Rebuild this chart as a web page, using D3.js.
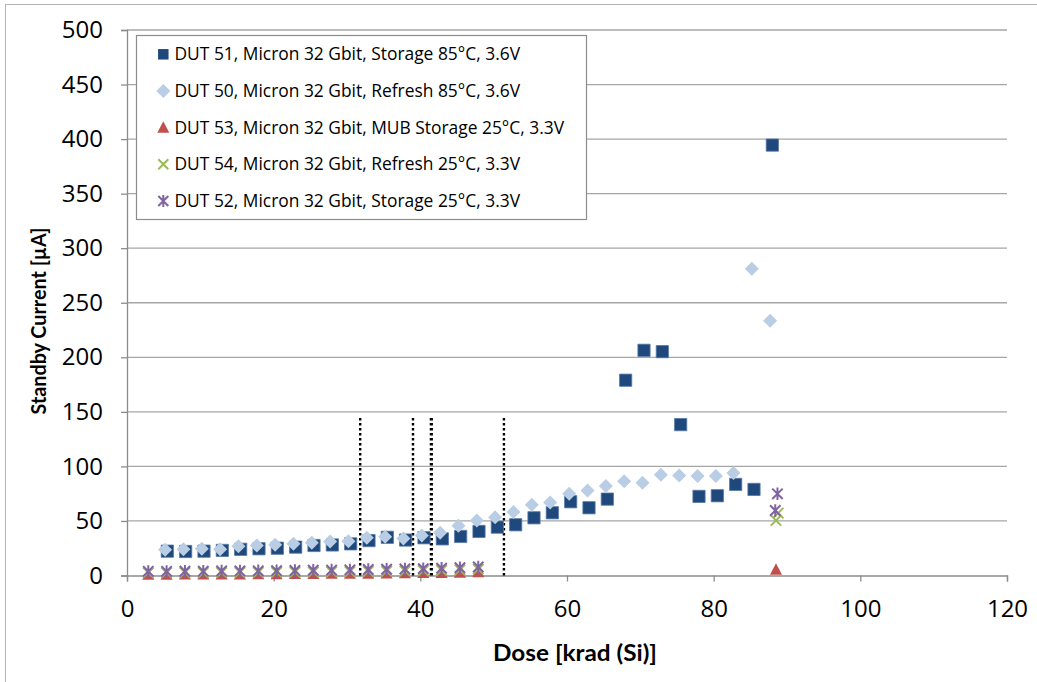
<!DOCTYPE html>
<html><head><meta charset="utf-8">
<script src="https://cdn.jsdelivr.net/npm/d3@7"></script>
<style>body{margin:0;background:#fff}svg{display:block}</style>
</head><body><svg id="c" width="1037" height="682"></svg>
<script>
const xTicks = [0, 20, 40, 60, 80, 100, 120];
const yTicks = [0, 50, 100, 150, 200, 250, 300, 350, 400, 450, 500];
const seriesNames = [
  "DUT 51, Micron 32 Gbit, Storage 85°C, 3.6V",
  "DUT 50, Micron 32 Gbit, Refresh 85°C, 3.6V",
  "DUT 53, Micron 32 Gbit, MUB Storage 25°C, 3.3V",
  "DUT 54, Micron 32 Gbit, Refresh 25°C, 3.3V",
  "DUT 52, Micron 32 Gbit, Storage 25°C, 3.3V"
];
const dut51Dose = [5.5, 8.0, 10.5, 13.0, 15.5, 18.0, 20.5, 23.0, 25.5, 28.0, 30.5, 33.0, 35.5, 38.0, 40.5, 43.0, 45.5, 48.0, 50.5, 53.0, 55.5, 58.0, 60.5, 63.0, 65.5, 68.0, 70.5, 73.0, 75.5, 78.0, 80.5, 83.0, 85.5, 88.0];
const dut51Current = [22.3, 22, 22.3, 23, 24, 24.5, 25, 26, 27.5, 28, 29, 32, 35, 32.5, 34.6, 33.6, 35.8, 40.4, 44.3, 46.5, 52.9, 57.5, 67.6, 62.1, 70, 179, 206.4, 205.2, 138.3, 72.5, 73.1, 83.5, 78.9, 394.5];
const dut50Dose = [5.2, 7.7, 10.2, 12.7, 15.2, 17.7, 20.2, 22.7, 25.2, 27.7, 30.2, 32.7, 35.2, 37.7, 40.2, 42.7, 45.2, 47.7, 50.2, 52.7, 55.2, 57.7, 60.3, 62.8, 65.3, 67.8, 70.3, 72.8, 75.3, 77.8, 80.3, 82.7, 85.2, 87.7];
const dut50Current = [23.6, 24.1, 24.5, 24.1, 26.9, 27.5, 28.2, 29.1, 30, 31.2, 31.5, 34.6, 35.5, 34, 36.7, 39.2, 45.6, 50.5, 53.5, 58.1, 64.9, 67, 75, 78, 82, 86.5, 85, 92.4, 91.7, 91.1, 91.1, 93.9, 281.2, 233.5];
const lowDose = [2.9, 5.4, 7.9, 10.4, 12.9, 15.4, 17.9, 20.4, 22.9, 25.4, 27.9, 30.4, 32.9, 35.4, 37.9, 40.4, 42.9, 45.4, 47.9];
const dut53Dose = lowDose.concat([88.5]);
const dut53Current = [0.8, 0.8, 0.9, 0.9, 1.0, 1.0, 1.1, 1.2, 1.3, 1.4, 1.5, 1.6, 1.7, 1.8, 2.0, 2.2, 2.4, 2.6, 3.0, 5.2];
const dut54Dose = lowDose.concat([88.8, 88.5]);
const dut54Current = [2.6, 2.6, 2.7, 2.7, 2.8, 2.9, 3.0, 3.1, 3.2, 3.3, 3.5, 3.6, 3.8, 4.0, 4.2, 4.5, 4.8, 5.2, 5.8, 57.2, 50.5];
const dut52Dose = lowDose.concat([88.7, 88.4]);
const dut52Current = [3.8, 3.8, 3.9, 4.0, 4.1, 4.2, 4.3, 4.4, 4.6, 4.8, 5.0, 5.2, 5.5, 5.7, 6.0, 6.3, 6.7, 7.1, 7.8, 74.9, 59.6];
const markerLines = [31.8, 39.0, 41.5, 51.4];
const markerLineTop = 146;

const svg = d3.select("#c");
const x = d3.scaleLinear().domain([0, 120]).range([127, 1007]);
const y = d3.scaleLinear().domain([0, 500]).range([575.5, 30]);

// outer chart border
svg.append("rect").attr("x", 5.5).attr("y", 4.5).attr("width", 1100).attr("height", 1000)
  .attr("fill", "#fff").attr("stroke", "#b3b3b3").attr("stroke-width", 1);

// gridlines
svg.append("g").selectAll("line").data(yTicks.filter(d => d > 0)).join("line")
  .attr("x1", x(0)).attr("x2", x(120)).attr("y1", d => y(d)).attr("y2", d => y(d))
  .attr("stroke", "#a6a6a6").attr("stroke-width", 1.3);

const font = "'Open Sans', 'DejaVu Sans', sans-serif";
// y axis
const yAxis = svg.append("g").attr("transform", `translate(${x(0)},0)`)
  .call(d3.axisLeft(y).tickValues(yTicks).tickSize(6).tickPadding(18));
yAxis.select(".domain").attr("stroke", "#8c8c8c").attr("stroke-width", 1.3);
yAxis.selectAll(".tick line").attr("stroke", "#8c8c8c").attr("stroke-width", 1.3);
yAxis.selectAll("text").attr("font-family", font).attr("font-size", 24).attr("fill", "#000");
// x axis
const xAxis = svg.append("g").attr("transform", `translate(0,${y(0)})`)
  .call(d3.axisBottom(x).tickValues(xTicks).tickSize(6).tickPadding(18));
xAxis.select(".domain").attr("stroke", "#8c8c8c").attr("stroke-width", 1.3);
xAxis.selectAll(".tick line").attr("stroke", "#8c8c8c").attr("stroke-width", 1.3);
xAxis.selectAll("text").attr("font-family", font).attr("font-size", 24).attr("fill", "#000");

// axis titles
const titleFont = "Lato, 'Liberation Sans', sans-serif";
svg.append("text").attr("transform", "translate(46,321) rotate(-90)")
  .attr("text-anchor", "middle").attr("font-family", titleFont).attr("font-weight", "bold")
  .attr("font-size", 20).attr("textLength", 187).attr("lengthAdjust", "spacingAndGlyphs")
  .text("Standby Current [µA]");
svg.append("text").attr("x", 575).attr("y", 661)
  .attr("text-anchor", "middle").attr("font-family", titleFont).attr("font-weight", "bold")
  .attr("font-size", 22).attr("textLength", 164).attr("lengthAdjust", "spacingAndGlyphs")
  .text("Dose [krad (Si)]");

// dotted vertical marker lines
svg.append("g").selectAll("line").data(markerLines).join("line")
  .attr("x1", d => x(d)).attr("x2", d => x(d)).attr("y1", y(0)).attr("y2", y(markerLineTop))
  .attr("stroke", "#000").attr("stroke-width", (d, i) => i === 2 ? 3.2 : 2.4)
  .attr("stroke-dasharray", "2.4,2.6");

const C51 = "#1F497D", C50 = "#B9CDE5", C53 = "#C0504D", C54 = "#9BBB59", C52 = "#8064A2";
const sym = {
  square: d3.symbol(d3.symbolSquare, 150),
  diamond: d3.symbol().type({draw(ctx, s){ const r = 7; ctx.moveTo(0,-r); ctx.lineTo(r,0); ctx.lineTo(0,r); ctx.lineTo(-r,0); ctx.closePath(); }}),
  triangle: d3.symbol().type({draw(ctx, s){ ctx.moveTo(0,-6.5); ctx.lineTo(6,5); ctx.lineTo(-6,5); ctx.closePath(); }})
};
function drawFilled(dose, vals, gen, color, stroke) {
  svg.append("g").selectAll("path").data(dose.map((d, i) => [d, vals[i]])).join("path")
    .attr("transform", d => `translate(${x(d[0])},${y(d[1])})`)
    .attr("d", gen()).attr("fill", color)
    .attr("stroke", stroke || "none").attr("stroke-width", 0.8);
}
function drawCross(dose, vals, color, star) {
  const g = svg.append("g").attr("stroke", color).attr("stroke-width", 2).attr("fill", "none");
  const pts = dose.map((d, i) => [d, vals[i]]);
  const r = 5.2;
  let p = `M${-r},${-r}L${r},${r}M${-r},${r}L${r},${-r}`;
  if (star) p += `M0,${-r - 1}L0,${r + 1}`;
  g.selectAll("path").data(pts).join("path")
    .attr("transform", d => `translate(${x(d[0])},${y(d[1])})`).attr("d", p);
}
drawFilled(dut51Dose, dut51Current, sym.square, C51, "#5578a6");
drawFilled(dut50Dose, dut50Current, sym.diamond, C50);
drawFilled(dut53Dose, dut53Current, sym.triangle, C53);
drawCross(dut54Dose, dut54Current, C54, false);
drawCross(dut52Dose, dut52Current, C52, true);

// legend
const lg = svg.append("g");
lg.append("rect").attr("x", 136.5).attr("y", 35.5).attr("width", 450).attr("height", 184)
  .attr("fill", "#fff").attr("stroke", "#8c8c8c").attr("stroke-width", 1.2);
const rowY = [54.3, 91, 127.7, 164.3, 201];
const lx = 163.3;
lg.append("path").attr("transform", `translate(${lx},${rowY[0]})`).attr("d", d3.symbol(d3.symbolSquare, 110)()).attr("fill", C51);
lg.append("path").attr("transform", `translate(${lx},${rowY[1]})`).attr("d", sym.diamond()).attr("fill", C50);
lg.append("path").attr("transform", `translate(${lx},${rowY[2]})`).attr("d", sym.triangle()).attr("fill", C53);
lg.append("path").attr("transform", `translate(${lx},${rowY[3]})`).attr("d", "M-5,-5L5,5M-5,5L5,-5").attr("stroke", C54).attr("stroke-width", 2);
lg.append("path").attr("transform", `translate(${lx},${rowY[4]})`).attr("d", "M-5,-5L5,5M-5,5L5,-5M0,-6L0,6").attr("stroke", C52).attr("stroke-width", 2);
lg.selectAll("text.l").data(seriesNames).join("text").attr("class", "l")
  .attr("x", 174.5).attr("y", (d, i) => rowY[i]).attr("dy", "0.35em")
  .attr("font-family", font).attr("font-size", 17.4).attr("fill", "#000").text(d => d);
</script>
</body></html>
